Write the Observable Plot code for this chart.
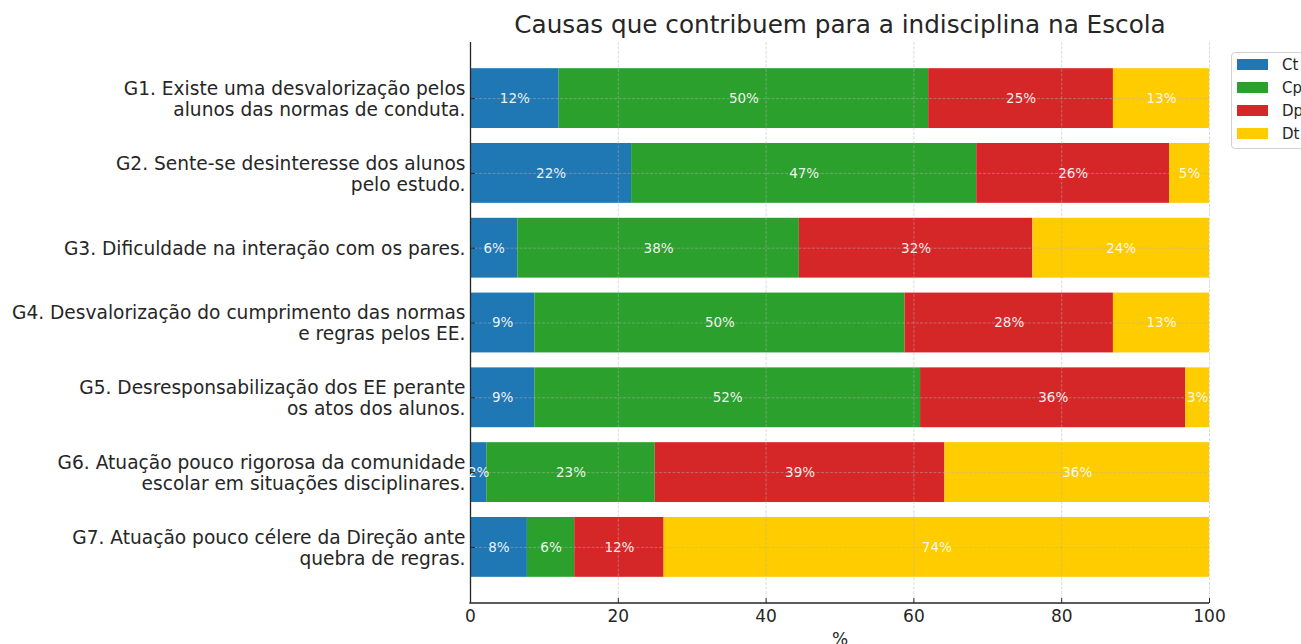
<!DOCTYPE html>
<html><head><meta charset="utf-8">
<script src="https://cdn.jsdelivr.net/npm/d3@7"></script>
<script src="https://cdn.jsdelivr.net/npm/@observablehq/plot@0.6"></script>
<style>
html,body{margin:0;padding:0;background:#fff;overflow:hidden;}
#wrap{position:relative;width:1301px;height:644px;overflow:hidden;font-family:"DejaVu Sans",sans-serif;}
#legend{position:absolute;left:1231px;top:52px;border:1px solid #d0d0d0;border-radius:4px;background:rgba(255,255,255,0.9);padding:0 10px 3px 5px;}
#legend .row{display:flex;align-items:center;height:23px;}
#legend .sw{width:31px;height:11px;margin-right:14px;}
#legend .lb{font-size:15px;color:#262626;}
</style></head><body><div id="wrap"></div>
<script>
const title = "Causas que contribuem para a indisciplina na Escola";
const xLabel = "%";
const categories = [
  "G1. Existe uma desvalorização pelos\nalunos das normas de conduta.",
  "G2. Sente-se desinteresse dos alunos\npelo estudo.",
  "G3. Dificuldade na interação com os pares.",
  "G4. Desvalorização do cumprimento das normas\ne regras pelos EE.",
  "G5. Desresponsabilização dos EE perante\nos atos dos alunos.",
  "G6. Atuação pouco rigorosa da comunidade\nescolar em situações disciplinares.",
  "G7. Atuação pouco célere da Direção ante\nquebra de regras."
];
const series = ["Ct", "Cp", "Dp", "Dt"];
const colors = ["#1f77b4", "#2ca02c", "#d62728", "#ffcc00"];
const ct = [12.0, 21.8, 6.4, 8.7, 8.7, 2.2, 7.7];
const cp = [50.0, 46.7, 38.1, 50.1, 52.2, 22.8, 6.4];
const dp = [25.0, 26.1, 31.6, 28.2, 35.9, 39.2, 12.1];
const dt = [13.0, 5.4, 23.9, 13.0, 3.2, 35.8, 73.8];
const xTicks = [0, 20, 40, 60, 80, 100];

const values = [ct, cp, dp, dt];
const rows = [];
categories.forEach((c, i) => series.forEach((s, j) => rows.push({category: c, series: s, value: values[j][i]})));

const chart = Plot.plot({
  width: 1301, height: 644,
  marginLeft: 470, marginRight: 92, marginTop: 42, marginBottom: 41,
  style: {fontFamily: "DejaVu Sans", color: "#262626", background: "white", overflow: "visible"},
  x: {domain: [0, 100]},
  y: {domain: categories, paddingInner: 0.2, paddingOuter: 0.35, round: false},
  color: {domain: series, range: colors},
  marks: [
    Plot.barX(rows, Plot.stackX({x: "value", y: "category", fill: "series", order: series})),
    Plot.gridX(xTicks, {stroke: "#b0b0b0", strokeOpacity: 0.6, strokeWidth: 0.8, strokeDasharray: "3,1.5"}),
    Plot.gridY(categories, {stroke: "#b0b0b0", strokeOpacity: 0.6, strokeWidth: 0.8, strokeDasharray: "3,1.5"}),
    Plot.ruleX([0], {stroke: "#262626", strokeWidth: 1.3}),
    Plot.text(rows, Plot.stackX({x: "value", y: "category", z: "series", order: series,
      text: d => Math.round(d.value) + "%", fill: "white", fillOpacity: 0.92, fontSize: 13.5})),
    Plot.axisX(xTicks, {tickSize: -5, tickPadding: 11, fontSize: 17, label: null, stroke: "#262626"}),
    Plot.axisY({tickSize: -5, tickPadding: 10, fontSize: 18.6, lineHeight: 1.13, label: null, stroke: "#262626"}),
    Plot.text([title], {frameAnchor: "top", dy: -17, lineAnchor: "middle", fontSize: 24.7, text: d => d, fill: "#262626"}),
    Plot.text([xLabel], {frameAnchor: "bottom", dy: 29, lineAnchor: "top", fontSize: 17, text: d => d, fill: "#262626"})
  ]
});

// bottom spine from the x scale
const xs = chart.scale("x");
const yBottom = 644 - 41;
d3.select(chart).append("line")
  .attr("x1", xs.apply(0) - 0.65).attr("x2", xs.apply(100))
  .attr("y1", yBottom).attr("y2", yBottom)
  .attr("stroke", "#262626").attr("stroke-width", 1.3);

const wrap = document.getElementById("wrap");
wrap.appendChild(chart);

const legend = document.createElement("div");
legend.id = "legend";
series.forEach((s, i) => {
  const r = document.createElement("div"); r.className = "row";
  const sw = document.createElement("div"); sw.className = "sw"; sw.style.background = colors[i];
  const lb = document.createElement("span"); lb.className = "lb"; lb.textContent = s;
  r.appendChild(sw); r.appendChild(lb); legend.appendChild(r);
});
wrap.appendChild(legend);
</script>
</body></html>
